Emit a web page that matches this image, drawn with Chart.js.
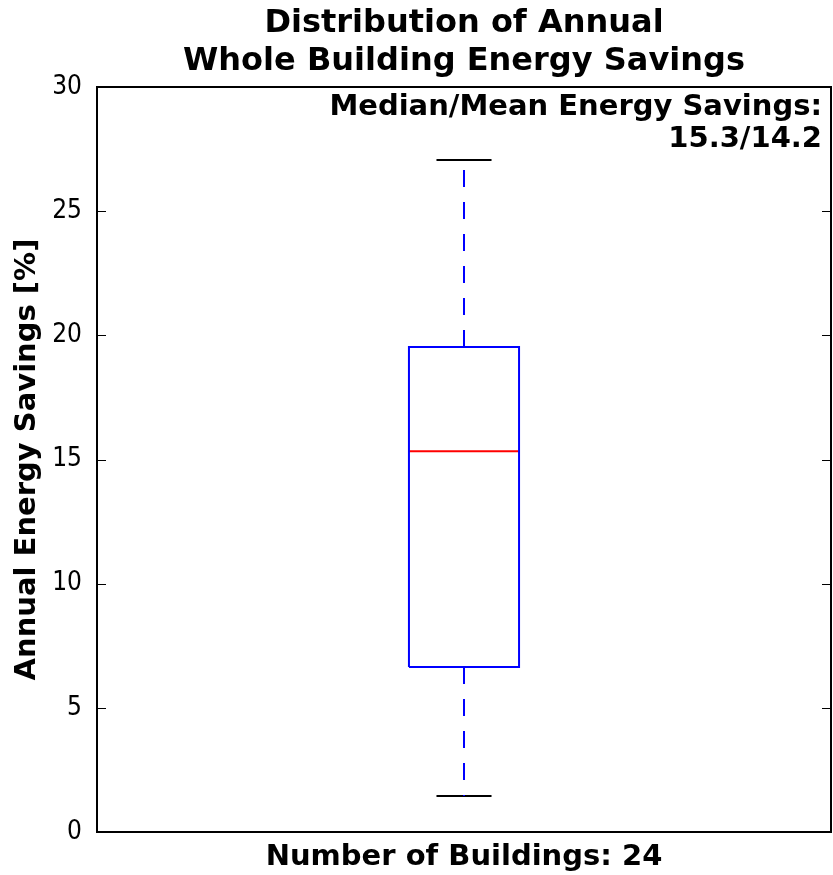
<!DOCTYPE html>
<html>
<head>
<meta charset="utf-8">
<script src="https://cdn.jsdelivr.net/npm/chart.js@4/dist/chart.umd.min.js"></script>
<style>
  html, body { margin: 0; padding: 0; background: #ffffff; }
  #wrap { width: 833px; height: 875px; position: relative; }
</style>
</head>
<body>
<div id="wrap"><canvas id="c" width="833" height="875"></canvas></div>
<script>
// ---- data ----
const titleLines = ['Distribution of Annual', 'Whole Building Energy Savings'];
const yAxisTitle = 'Annual Energy Savings [%]';
const buildingCount = 24;
const yTicks = [0, 5, 10, 15, 20, 25, 30];
const whiskerLow = 1.45;
const q1 = 6.64;
const median = 15.33;
const q3 = 19.53;
const whiskerHigh = 27.06;
const medianLabel = 15.3;
const meanLabel = 14.2;

const BOLD_FONT = '"DejaVu Sans", sans-serif';
const TICK_FONT = '"DejaVu Sans Condensed", "DejaVu Sans", sans-serif';
const boxPos = 1, boxHalf = 0.075, capHalf = 0.0375;

function seg(points, color, dash) {
  return {
    type: 'line',
    data: points.map(p => ({x: p[0], y: p[1]})),
    borderColor: color,
    borderWidth: 2,
    borderDash: dash || [],
    pointRadius: 0,
    tension: 0,
    fill: false,
    borderCapStyle: 'butt',
    borderJoinStyle: 'miter'
  };
}

const datasets = [
  seg([[boxPos, q3], [boxPos, whiskerHigh]], '#0000ff', [17, 15]),
  seg([[boxPos, q1], [boxPos, whiskerLow]], '#0000ff', [17, 15]),
  seg([[boxPos - boxHalf, q1], [boxPos + boxHalf, q1], [boxPos + boxHalf, q3], [boxPos - boxHalf, q3], [boxPos - boxHalf, q1]], '#0000ff'),
  seg([[boxPos - boxHalf, median], [boxPos + boxHalf, median]], '#ff0000'),
  seg([[boxPos - capHalf, whiskerHigh], [boxPos + capHalf, whiskerHigh]], '#000000'),
  seg([[boxPos - capHalf, whiskerLow], [boxPos + capHalf, whiskerLow]], '#000000')
];

const framePlugin = {
  id: 'frameTicks',
  afterDatasetsDraw(chart) {
    const {ctx, chartArea: a, scales} = chart;
    ctx.save();
    ctx.strokeStyle = '#000';
    ctx.lineWidth = 1;
    yTicks.forEach(v => {
      const y = Math.round(scales.y.getPixelForValue(v)) + 0.5;
      ctx.beginPath();
      ctx.moveTo(a.left, y); ctx.lineTo(a.left + 9, y);
      ctx.moveTo(a.right, y); ctx.lineTo(a.right - 9, y);
      ctx.stroke();
    });
    ctx.lineWidth = 2;
    ctx.strokeRect(a.left, a.top, a.right - a.left, a.bottom - a.top);
    // annotation
    ctx.fillStyle = '#000';
    ctx.font = 'bold 29px ' + BOLD_FONT;
    ctx.textAlign = 'right';
    ctx.textBaseline = 'middle';
    ctx.fillText('Median/Mean Energy Savings:', a.right - 9, a.top + 20);
    ctx.fillText(medianLabel.toFixed(1) + '/' + meanLabel.toFixed(1), a.right - 9, a.top + 52);
    ctx.restore();
  }
};

new Chart(document.getElementById('c'), {
  type: 'line',
  data: { datasets },
  options: {
    responsive: false,
    animation: false,
    layout: { padding: { left: 0, right: 2, top: 0, bottom: 0 } },
    plugins: {
      legend: { display: false },
      tooltip: { enabled: false },
      title: {
        display: true,
        fullSize: false,
        text: titleLines,
        color: '#000',
        font: { family: BOLD_FONT, size: 32, weight: 'bold', lineHeight: 1.2 },
        padding: { top: 4, bottom: 6.2 }
      }
    },
    scales: {
      x: {
        type: 'linear',
        min: 0.5, max: 1.5,
        grid: { display: false, drawTicks: false },
        border: { display: false },
        ticks: { display: false },
        title: {
          display: true,
          text: 'Number of Buildings: ' + buildingCount,
          color: '#000',
          font: { family: BOLD_FONT, size: 29, weight: 'bold', lineHeight: 1.2 },
          padding: { top: 7.6, bottom: 0.6 }
        }
      },
      y: {
        min: 0, max: 30,
        afterFit(scale) { scale.width = 97; },
        afterBuildTicks(scale) { scale.ticks = yTicks.map(v => ({value: v})); },
        grid: { display: false, drawTicks: false },
        border: { display: false },
        ticks: {
          color: '#000',
          padding: 15,
          font: { family: TICK_FONT, size: 26 }
        },
        title: {
          display: true,
          text: yAxisTitle,
          color: '#000',
          font: { family: BOLD_FONT, size: 29, weight: 'bold', lineHeight: 1.2 },
          padding: { top: 10, bottom: 0 }
        }
      }
    }
  },
  plugins: [framePlugin]
});
</script>
</body>
</html>
